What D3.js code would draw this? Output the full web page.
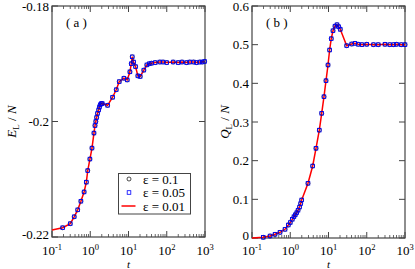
<!DOCTYPE html>
<html>
<head>
<meta charset="utf-8">
<script src="https://cdn.jsdelivr.net/npm/d3@7"></script>
<style>
  body { margin: 0; background: #fff; }
  svg { display: block; }
</style>
</head>
<body>
<div id="chart"></div>
<script>
// ---- data ----
var timesE = [0.19, 0.3, 0.38, 0.47, 0.57, 0.69, 0.79, 0.86, 0.98, 1.11, 1.25, 1.33, 1.4, 1.47, 1.55, 1.66, 1.74, 1.82, 1.95, 2.06,
  2.84, 3.84, 4.77, 5.72, 7.6, 9.25, 10.9, 11.8, 12.5, 13.6, 15.3, 17.6, 20.2, 25.2, 30.2, 35, 40, 50, 66, 80, 100, 147, 200,
  250, 329, 400, 500, 600, 731, 850, 977];
var energyEps01 = [-0.2184, -0.2177, -0.2165, -0.2153, -0.2138, -0.2122, -0.2105, -0.2085, -0.2065, -0.2046, -0.2020, -0.2007,
  -0.2000, -0.1993, -0.1986, -0.1980, -0.1975, -0.1971, -0.1969, -0.1969, -0.1972, -0.1958, -0.1945, -0.1931, -0.1925, -0.1928,
  -0.1914, -0.1900, -0.1888, -0.1897, -0.1905, -0.1921, -0.1922, -0.1911, -0.1902, -0.1900, -0.1899, -0.1898, -0.1897, -0.1897,
  -0.1898, -0.1897, -0.1898, -0.1897, -0.1898, -0.1897, -0.1897, -0.1898, -0.1897, -0.1897, -0.1896];
var energyEps005 = energyEps01.slice();
var lineTimesE = [0.1].concat(timesE);
var energyEps001 = [-0.2188].concat(energyEps01);

var timesQ = [0.197, 0.296, 0.40, 0.54, 0.73, 0.89, 1.0, 1.13, 1.25, 1.35, 1.48, 1.6, 1.75, 1.87, 1.99, 2.91, 3.86, 4.71, 5.75,
  6.64, 7.62, 8.6, 9.71, 10.7, 11.8, 13.1, 14.8, 16.7, 18.5, 20.3, 29.9, 40.4, 49.3, 60, 75, 100, 150, 200, 300, 400, 500, 600,
  800, 1000];
var chargeEps01 = [0.0018, 0.0052, 0.0096, 0.0147, 0.0225, 0.0336, 0.040, 0.0484, 0.055, 0.060, 0.0654, 0.072, 0.080, 0.089,
  0.0983, 0.1415, 0.1862, 0.232, 0.279, 0.3225, 0.3654, 0.4068, 0.4474, 0.4862, 0.5155, 0.536, 0.548, 0.5516, 0.5465, 0.5397,
  0.4973, 0.5017, 0.5035, 0.501, 0.500, 0.501, 0.500, 0.500, 0.501, 0.500, 0.500, 0.501, 0.500, 0.500];
var chargeEps005 = chargeEps01.slice();
var lineTimesQ = [0.1].concat(timesQ);
var chargeEps001 = [0].concat(chargeEps01);

var legendLabels = ["\u03b5 = 0.1", "\u03b5 = 0.05", "\u03b5 = 0.01"];
var yTicksE = [-0.22, -0.2, -0.18];
var yTicksQ = [0, 0.1, 0.2, 0.3, 0.4, 0.5, 0.6];
var xTicks = [0.1, 1, 10, 100, 1000];

var width = 415, height = 269;
var svg = d3.select("#chart").append("svg")
  .attr("width", width)
  .attr("height", height)
  .attr("font-family", "'Liberation Serif', 'Times New Roman', Times, serif");

var axisColor = "#444";

function zip(ts, vs) {
  return ts.map(function (t, i) { return [t, vs[i]]; });
}

// draws one panel
function panel(opts) {
  var x = d3.scaleLog().domain([0.1, 1000]).range([opts.left, opts.right]);
  var y = d3.scaleLinear().domain(opts.yDomain).range([opts.bottom, opts.top]);
  var g = svg.append("g");

  // minor x ticks (bottom and top, pointing inward)
  var minors = [];
  for (var e = -1; e < 3; e++) {
    for (var m = 2; m < 10; m++) minors.push(m * Math.pow(10, e));
  }
  minors.forEach(function (v) {
    g.append("line").attr("x1", x(v)).attr("x2", x(v))
      .attr("y1", opts.bottom).attr("y2", opts.bottom - 3)
      .attr("stroke", axisColor).attr("stroke-width", 0.8);
    g.append("line").attr("x1", x(v)).attr("x2", x(v))
      .attr("y1", opts.top).attr("y2", opts.top + 3)
      .attr("stroke", axisColor).attr("stroke-width", 0.8);
  });
  xTicks.forEach(function (v) {
    g.append("line").attr("x1", x(v)).attr("x2", x(v))
      .attr("y1", opts.bottom).attr("y2", opts.bottom - 6)
      .attr("stroke", axisColor).attr("stroke-width", 1);
    g.append("line").attr("x1", x(v)).attr("x2", x(v))
      .attr("y1", opts.top).attr("y2", opts.top + 6)
      .attr("stroke", axisColor).attr("stroke-width", 1);
    var lbl = g.append("text")
      .attr("x", x(v)).attr("y", 255)
      .attr("text-anchor", "middle")
      .attr("font-size", 13);
    lbl.append("tspan").text("10");
    lbl.append("tspan").attr("dy", -5).attr("font-size", 8.5).text(Math.round(Math.log10(v)));
  });

  opts.yTicks.forEach(function (v) {
    g.append("line").attr("x1", opts.left).attr("x2", opts.left + 6)
      .attr("y1", y(v)).attr("y2", y(v))
      .attr("stroke", axisColor).attr("stroke-width", 1);
    g.append("line").attr("x1", opts.right).attr("x2", opts.right - 6)
      .attr("y1", y(v)).attr("y2", y(v))
      .attr("stroke", axisColor).attr("stroke-width", 1);
    g.append("text")
      .attr("x", opts.left - 3).attr("y", y(v) + (v === opts.yDomain[0] ? 1.5 : 4.5))
      .attr("text-anchor", "end")
      .attr("font-size", 13)
      .text(opts.fmt(v));
  });

  g.append("rect")
    .attr("x", opts.left).attr("y", opts.top)
    .attr("width", opts.right - opts.left).attr("height", opts.bottom - opts.top)
    .attr("fill", "none").attr("stroke", axisColor).attr("stroke-width", 1.2);

  // axis titles
  var yl = g.append("text")
    .attr("transform", "translate(" + opts.yLabelX + "," + ((opts.top + opts.bottom) / 2) + ") rotate(-90)")
    .attr("text-anchor", "middle")
    .attr("font-size", 13);
  yl.append("tspan").attr("font-style", "italic").text(opts.yName);
  yl.append("tspan").attr("dy", 3).attr("font-size", 9).text("L");
  yl.append("tspan").attr("dy", -3).text(" / ");
  yl.append("tspan").attr("font-style", "italic").text("N");

  g.append("text")
    .attr("x", (opts.left + opts.right) / 2).attr("y", 268)
    .attr("text-anchor", "middle")
    .attr("font-size", 11).attr("font-style", "italic")
    .text("t");

  g.append("text")
    .attr("x", opts.left + 14).attr("y", opts.top + 21)
    .attr("font-size", 13)
    .text(opts.tag);

  // data
  var line = d3.line()
    .x(function (d) { return x(d[0]); })
    .y(function (d) { return y(d[1]); });

  g.append("path")
    .datum(zip(opts.lineT, opts.lineV))
    .attr("d", line)
    .attr("fill", "none")
    .attr("stroke", "#ff0000")
    .attr("stroke-width", 1.5);

  g.selectAll("circle.s1").data(zip(opts.markT, opts.v1)).enter()
    .append("circle")
    .attr("cx", function (d) { return x(d[0]); })
    .attr("cy", function (d) { return y(d[1]); })
    .attr("r", 2)
    .attr("fill", "none").attr("stroke", "#000").attr("stroke-width", 0.7);

  g.selectAll("rect.s2").data(zip(opts.markT, opts.v2)).enter()
    .append("rect")
    .attr("x", function (d) { return x(d[0]) - 1.8; })
    .attr("y", function (d) { return y(d[1]) - 1.8; })
    .attr("width", 3.6).attr("height", 3.6)
    .attr("fill", "none").attr("stroke", "#0000ff").attr("stroke-width", 0.8);

  return { x: x, y: y, g: g };
}

panel({
  left: 52, right: 205, top: 6, bottom: 237,
  yDomain: [-0.22, -0.18], yTicks: yTicksE,
  fmt: function (v) { return v === -0.2 ? "-0.2" : v.toFixed(2); },
  yName: "E", yLabelX: 16, tag: "( a )",
  lineT: lineTimesE, lineV: energyEps001,
  markT: timesE, v1: energyEps01, v2: energyEps005
});

panel({
  left: 252, right: 405, top: 6, bottom: 238,
  yDomain: [0, 0.6], yTicks: yTicksQ,
  fmt: function (v) { return v === 0 ? "0" : v.toFixed(1); },
  yName: "Q", yLabelX: 229, tag: "( b )",
  lineT: lineTimesQ, lineV: chargeEps001,
  markT: timesQ, v1: chargeEps01, v2: chargeEps005
});

// legend in panel (a)
var leg = svg.append("g");
leg.append("rect")
  .attr("x", 118.5).attr("y", 173.5).attr("width", 72).attr("height", 40.5)
  .attr("fill", "#fff").attr("stroke", axisColor).attr("stroke-width", 1);
var rowY = [179, 192.5, 206];
leg.append("circle").attr("cx", 129).attr("cy", rowY[0]).attr("r", 2)
  .attr("fill", "none").attr("stroke", "#000").attr("stroke-width", 0.7);
leg.append("rect").attr("x", 127.2).attr("y", rowY[1] - 1.8).attr("width", 3.6).attr("height", 3.6)
  .attr("fill", "none").attr("stroke", "#0000ff").attr("stroke-width", 0.8);
leg.append("line").attr("x1", 121.5).attr("x2", 135.5).attr("y1", rowY[2]).attr("y2", rowY[2])
  .attr("stroke", "#ff0000").attr("stroke-width", 1.5);
legendLabels.forEach(function (s, i) {
  leg.append("text")
    .attr("x", 143).attr("y", rowY[i] + 4.5)
    .attr("font-size", 13)
    .text(s);
});
</script>
</body>
</html>
